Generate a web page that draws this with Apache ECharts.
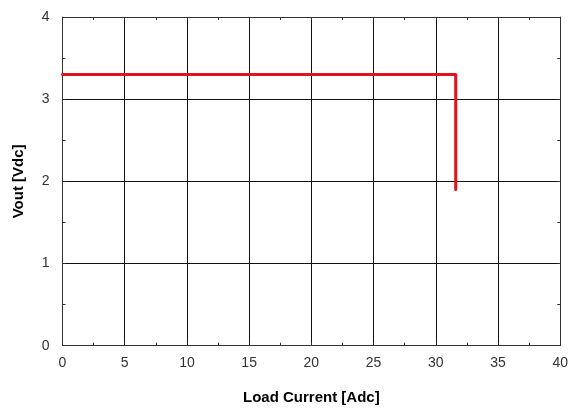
<!DOCTYPE html>
<html><head><meta charset="utf-8">
<script src="https://cdn.jsdelivr.net/npm/echarts@6/dist/echarts.min.js"></script>
<style>html,body{margin:0;padding:0;background:#fff}#c{width:571px;height:412px}</style>
</head><body><div id="c"></div>
<script>
var loadCurrent = [0, 31.6, 31.6];
var vout = [3.3, 3.3, 1.9];
var xTicks = [0, 5, 10, 15, 20, 25, 30, 35, 40];
var yTicks = [0, 1, 2, 3, 4];

var pts = loadCurrent.map(function (x, i) { return [x, vout[i]]; });
var chart = echarts.init(document.getElementById('c'), null, {renderer: 'canvas'});
var font = 'Liberation Sans, Arial, sans-serif';
var lineCol = '#333';
var xStep = xTicks[1] - xTicks[0], yStep = yTicks[1] - yTicks[0];
function frameAxis(pos, isX, labels) {
  return {
    type: 'value', position: pos,
    min: isX ? xTicks[0] : yTicks[0],
    max: isX ? xTicks[xTicks.length - 1] : yTicks[yTicks.length - 1],
    interval: isX ? xStep / 2 : yStep / 2,
    axisLine: {show: true, onZero: false, lineStyle: {color: lineCol, width: 1}},
    axisTick: {show: true, inside: true, length: 3, lineStyle: {color: lineCol, width: 1}},
    splitLine: {show: false},
    axisLabel: {
      show: labels, color: '#333', fontFamily: font, fontSize: 14, margin: isX ? 10 : 13,
      formatter: function (v) {
        var list = isX ? xTicks : yTicks;
        return list.indexOf(v) >= 0 ? String(v) : '';
      }
    }
  };
}
function gridAxis(isX) {
  return {
    type: 'value', position: isX ? 'bottom' : 'left',
    min: isX ? xTicks[0] : yTicks[0],
    max: isX ? xTicks[xTicks.length - 1] : yTicks[yTicks.length - 1],
    interval: isX ? xStep : yStep,
    axisLine: {show: false, onZero: false}, axisTick: {show: false}, axisLabel: {show: false},
    splitLine: {show: true, lineStyle: {color: '#111', width: 1}}
  };
}
var xb = frameAxis('bottom', true, true);
xb.name = 'Load Current [Adc]'; xb.nameLocation = 'middle'; xb.nameGap = 45;
xb.nameTextStyle = {fontFamily: font, fontWeight: 'bold', fontSize: 15, color: '#000'};
var yl = frameAxis('left', false, true);
yl.name = 'Vout [Vdc]'; yl.nameLocation = 'middle'; yl.nameGap = 36;
yl.nameTextStyle = {fontFamily: font, fontWeight: 'bold', fontSize: 15, color: '#000'};

chart.setOption({
  animation: false,
  grid: {left: 62.5, right: 9, top: 17, bottom: 66.3, containLabel: false},
  xAxis: [xb, frameAxis('top', true, false), gridAxis(true)],
  yAxis: [yl, frameAxis('right', false, false), gridAxis(false)],
  series: [{
    type: 'line', data: pts, xAxisIndex: 0, yAxisIndex: 0,
    symbol: 'none', lineStyle: {color: '#e0141c', width: 3, cap: 'round', join: 'round'},
    z: 5
  }]
});
</script></body></html>
